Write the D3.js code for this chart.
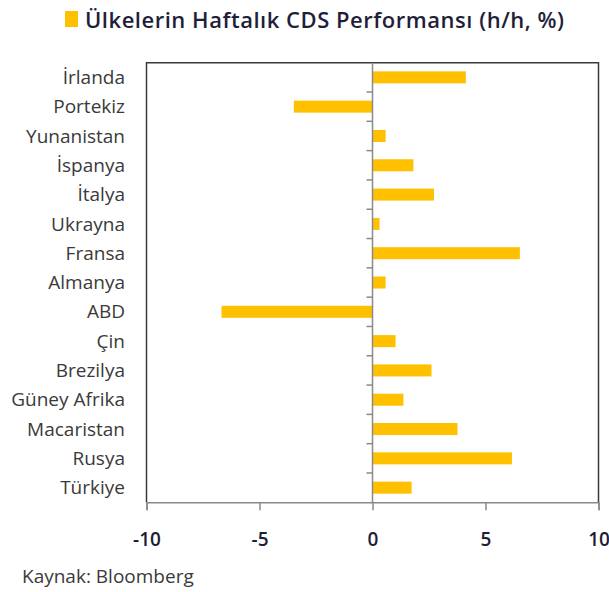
<!DOCTYPE html>
<html lang="tr">
<head>
<meta charset="utf-8">
<title>Ülkelerin Haftalık CDS Performansı</title>
<script src="https://cdn.jsdelivr.net/npm/d3@7"></script>
<style>
  body { margin: 0; background: #fff; }
  svg { display: block; font-family: "Open Sans", sans-serif; }
  .cat text { fill: #3a3a3a; font-size: 19px; }
  .xax text { fill: #1e1e36; font-size: 19px; font-weight: 600; }
</style>
</head>
<body>
<script>
// haftalık CDS değişimi, %
let countries = ["İrlanda", "Portekiz", "Yunanistan", "İspanya", "İtalya", "Ukrayna", "Fransa",
  "Almanya", "ABD", "Çin", "Brezilya", "Güney Afrika", "Macaristan", "Rusya", "Türkiye"]
let values = [4.13, -3.48, 0.58, 1.81, 2.72, 0.31, 6.52, 0.58, -6.68, 1.02, 2.61, 1.37, 3.76, 6.17, 1.73]
let xTicks = [-10, -5, 0, 5, 10]

let w = 609
let h = 592
let pLeft = 146.5, pRight = 598.5, pTop = 62.7, pBottom = 502.3

let svg = d3.select("body").append("svg")
  .attr("width", w)
  .attr("height", h)

let x = d3.scaleLinear().domain([-10, 10]).range([pLeft, pRight])
let y = d3.scaleBand().domain(countries).range([pTop, pBottom]).paddingInner(0.59).paddingOuter(0.295)
let band = d3.scaleBand().domain(countries).range([pTop, pBottom])

// legend / title
svg.append("rect")
  .attr("x", 65).attr("y", 11)
  .attr("width", 13).attr("height", 16)
  .attr("fill", "#FFC000")
svg.append("text")
  .attr("x", 85).attr("y", 28)
  .attr("textLength", 479)
  .attr("lengthAdjust", "spacing")
  .style("font-size", "22px")
  .style("font-weight", 600)
  .style("fill", "#1f1f3a")
  .text("Ülkelerin Haftalık  CDS Performansı (h/h, %)")

// bars
svg.selectAll("rect.bar")
  .data(values)
  .enter()
  .append("rect")
  .attr("class", "bar")
  .attr("x", (d) => x(Math.min(0, d)))
  .attr("y", (d, i) => y(countries[i]))
  .attr("width", (d) => Math.abs(x(d) - x(0)))
  .attr("height", y.bandwidth())
  .attr("fill", "#FFC000")

// frame: left, top, right
svg.append("path")
  .attr("d", "M" + pLeft + "," + pBottom + "V" + pTop + "H" + pRight + "V" + pBottom)
  .attr("fill", "none")
  .attr("stroke", "#3a3a3a")
  .attr("stroke-width", 1.5)

// vertical zero axis with category ticks
let zero = svg.append("g")
  .attr("transform", "translate(" + x(0) + ",0)")
zero.append("line")
  .attr("y1", pTop).attr("y2", pBottom)
  .attr("stroke", "#8a8a8a").attr("stroke-width", 1.5)
zero.selectAll("line.tk")
  .data(countries.slice(1))
  .enter()
  .append("line")
  .attr("class", "tk")
  .attr("x1", -6).attr("x2", 0)
  .attr("y1", (d) => band(d)).attr("y2", (d) => band(d))
  .attr("stroke", "#8a8a8a").attr("stroke-width", 1.5)

// category labels
svg.append("g")
  .attr("class", "cat")
  .selectAll("text")
  .data(countries)
  .enter()
  .append("text")
  .attr("x", 125)
  .attr("y", (d) => band(d) + band.bandwidth() / 2)
  .attr("dy", "0.35em")
  .attr("text-anchor", "end")
  .text((d) => d)

// x axis (plain hyphen for negatives, as in the original)
let xAxis = d3.axisBottom(x)
  .tickValues(xTicks)
  .tickFormat((d) => String(d))
  .tickSize(8)
  .tickPadding(22)
let gx = svg.append("g")
  .attr("class", "xax")
  .attr("transform", "translate(0," + pBottom + ")")
  .call(xAxis)
gx.select(".domain").attr("stroke", "#8a8a8a").attr("stroke-width", 1.5)
gx.selectAll(".tick line").attr("stroke", "#8a8a8a").attr("stroke-width", 1.5)
gx.attr("font-family", null).attr("font-size", null)

// source
svg.append("text")
  .attr("x", 22).attr("y", 583)
  .style("font-size", "19px")
  .style("fill", "#3a3a3a")
  .text("Kaynak: Bloomberg")
</script>
</body>
</html>
